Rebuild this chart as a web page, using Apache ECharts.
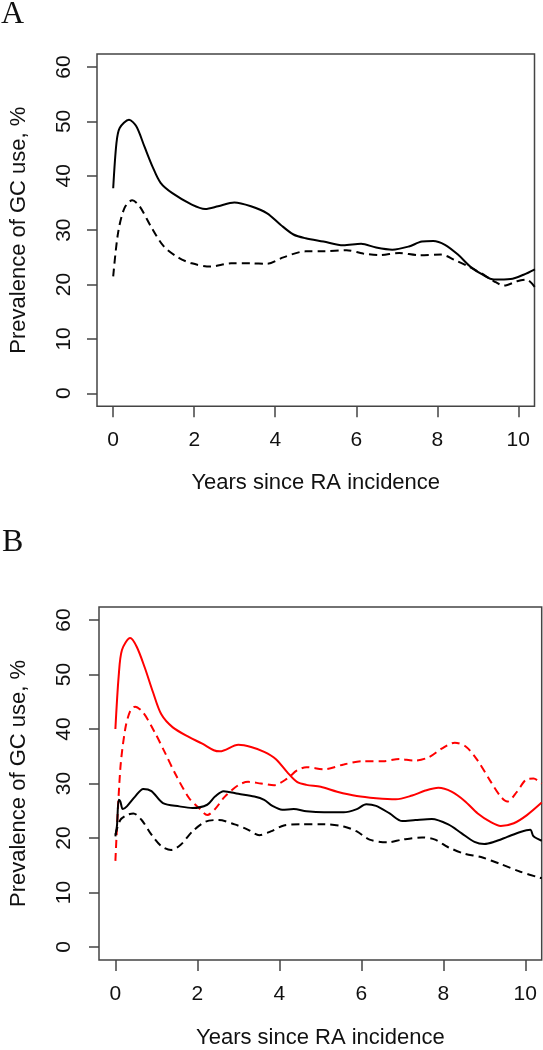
<!DOCTYPE html>
<html>
<head>
<meta charset="utf-8">
<script src="https://cdn.jsdelivr.net/npm/echarts@6/dist/echarts.min.js"></script>
<style>
html,body{margin:0;padding:0;background:#fff;}
#c{width:543px;height:1050px;}
</style>
</head>
<body>
<div id="c"></div>
<script>
// ---- tick labels ----
var yTicks = [0, 10, 20, 30, 40, 50, 60];
var xTicks = [0, 2, 4, 6, 8, 10];

// ---- Panel A ----
var aSolidX = [0, 0.08, 0.16, 0.39, 0.57, 0.77, 0.97, 1.17, 1.46, 1.94, 2.27, 2.59, 2.99, 3.40, 3.80, 4.13, 4.45, 4.75, 5.19, 5.68, 6.12, 6.49, 6.89, 7.30, 7.62, 7.90, 8.19, 8.51, 8.83, 9.12, 9.40, 9.81, 10.13, 10.41];
var aSolidY = [37.7, 46, 48.8, 50.3, 49.1, 45.4, 41.7, 38.7, 36.8, 34.7, 33.9, 34.4, 35.1, 34.4, 33.1, 31.0, 29.2, 28.5, 27.9, 27.2, 27.5, 26.8, 26.4, 27.0, 27.9, 28.0, 27.3, 25.5, 23.2, 21.8, 20.9, 21.0, 21.8, 22.8];
var aDashX = [0, 0.12, 0.28, 0.47, 0.65, 0.93, 1.25, 1.62, 1.94, 2.39, 2.91, 3.40, 3.80, 4.20, 4.75, 5.19, 5.76, 6.17, 6.57, 7.06, 7.54, 8.10, 8.43, 8.75, 9.08, 9.40, 9.65, 9.97, 10.21, 10.41];
var aDashY = [21.5, 29.5, 34.1, 35.5, 34.4, 30.7, 27.0, 24.9, 23.9, 23.3, 23.9, 23.9, 23.8, 25.0, 26.1, 26.1, 26.3, 25.7, 25.4, 25.8, 25.4, 25.5, 24.5, 23.4, 22.1, 20.6, 19.8, 20.6, 20.9, 19.5];

// ---- Panel B ----
var bRedSolidX = [0, 0.08, 0.16, 0.36, 0.52, 0.72, 0.92, 1.12, 1.40, 1.80, 2.12, 2.40, 2.55, 3.00, 3.31, 3.63, 3.91, 4.19, 4.43, 4.66, 5.01, 5.41, 5.89, 6.36, 6.84, 7.24, 7.56, 7.88, 8.20, 8.52, 8.84, 9.16, 9.40, 9.72, 10.04, 10.40];
var bRedSolidY = [40.0, 49.7, 54.5, 56.7, 55.1, 51.2, 46.7, 42.7, 40.3, 38.5, 37.3, 36.1, 35.9, 37.1, 36.7, 35.8, 34.5, 32.1, 30.3, 29.75, 29.4, 28.5, 27.7, 27.3, 27.1, 27.8, 28.7, 29.2, 28.5, 26.8, 24.5, 22.9, 22.2, 22.7, 24.2, 26.5];
var bRedDashX = [0, 0.12, 0.24, 0.36, 0.48, 0.68, 0.96, 1.20, 1.48, 1.80, 2.04, 2.24, 2.43, 2.67, 3.00, 3.24, 3.55, 3.87, 4.19, 4.43, 4.66, 5.09, 5.57, 6.05, 6.53, 6.93, 7.28, 7.64, 7.96, 8.28, 8.56, 8.84, 9.16, 9.40, 9.56, 9.80, 10.04, 10.20, 10.40];
var bRedDashY = [15.8, 32.7, 40.0, 43.3, 44.1, 43.0, 39.4, 35.8, 31.5, 27.3, 25.5, 24.2, 25.3, 27.6, 29.7, 30.3, 30.0, 29.7, 30.9, 32.4, 33.0, 32.6, 33.5, 34.1, 34.1, 34.5, 34.2, 34.8, 36.4, 37.5, 36.7, 34.2, 30.3, 27.6, 26.7, 28.5, 30.8, 30.9, 30.0];
var bBlackSolidX = [0, 0.04, 0.08, 0.12, 0.18, 0.28, 0.48, 0.68, 0.88, 1.16, 1.56, 1.88, 2.24, 2.43, 2.64, 3.00, 3.39, 3.63, 3.83, 4.07, 4.35, 4.66, 5.09, 5.57, 5.89, 6.12, 6.36, 6.69, 7.00, 7.32, 7.72, 8.12, 8.44, 8.76, 9.00, 9.24, 9.56, 9.88, 10.12, 10.20, 10.40];
var bBlackSolidY = [20.3, 22.4, 27.0, 26.7, 25.3, 25.8, 27.6, 29.0, 28.6, 26.4, 25.8, 25.5, 26.1, 27.6, 28.6, 28.1, 27.6, 27.0, 25.9, 25.2, 25.3, 24.9, 24.7, 24.7, 25.3, 26.2, 25.9, 24.5, 23.1, 23.3, 23.5, 22.5, 20.9, 19.3, 18.9, 19.3, 20.2, 21.1, 21.5, 20.3, 19.5];
var bBlackDashX = [0, 0.12, 0.28, 0.44, 0.64, 0.88, 1.12, 1.36, 1.60, 1.88, 2.20, 2.52, 2.91, 3.24, 3.51, 3.79, 4.11, 4.51, 5.09, 5.57, 5.89, 6.20, 6.64, 7.00, 7.48, 7.80, 8.12, 8.52, 8.92, 9.40, 9.88, 10.40];
var bBlackDashY = [20.6, 23.3, 24.2, 24.5, 23.3, 20.6, 18.5, 17.8, 18.8, 21.2, 23.0, 23.3, 22.5, 21.5, 20.5, 21.2, 22.3, 22.5, 22.5, 22.1, 21.2, 19.7, 19.2, 19.7, 20.1, 19.7, 18.3, 17.1, 16.5, 15.2, 13.8, 12.6];

function zip(xs, ys) { return xs.map(function (x, i) { return [x, ys[i]]; }); }

var FONT = '"Liberation Sans", Arial, sans-serif';
var AX = '#444';

function makeX(idx, labelMargin, nameGap) {
  return {
    type: 'value', gridIndex: idx, min: -0.4, max: 10.4,
    name: 'Years since RA incidence', nameLocation: 'middle', nameGap: nameGap,
    nameTextStyle: { fontFamily: FONT, fontSize: 22, color: '#111' },
    axisLine: { show: false, onZero: false },
    axisTick: { show: true, inside: false, length: 11, customValues: xTicks, lineStyle: { color: AX, width: 1.5 } },
    axisLabel: { show: true, customValues: xTicks, margin: labelMargin, fontFamily: FONT, fontSize: 21, color: '#111' },
    splitLine: { show: false }
  };
}
function makeY(idx, labelMargin, nameGap) {
  return {
    type: 'value', gridIndex: idx, min: -2.4, max: 62.4,
    name: 'Prevalence of GC use, %', nameLocation: 'middle', nameGap: nameGap,
    nameTextStyle: { fontFamily: FONT, fontSize: 22, color: '#111' },
    axisLine: { show: false, onZero: false },
    axisTick: { show: true, inside: false, length: 10, customValues: yTicks, lineStyle: { color: AX, width: 1.5 } },
    axisLabel: { show: true, customValues: yTicks, rotate: 90, margin: labelMargin, fontFamily: FONT, fontSize: 21, color: '#111' },
    splitLine: { show: false }
  };
}
function line(data, xi, color, dashed) {
  return {
    type: 'line', xAxisIndex: xi, yAxisIndex: xi, data: data,
    showSymbol: false, symbol: 'none', smooth: 0.3, clip: true,
    lineStyle: { color: color, width: 2, type: dashed ? [8, 5] : 'solid' },
    silent: true
  };
}

var chart = echarts.init(document.getElementById('c'), null, { renderer: 'canvas' });
chart.setOption({
  animation: false,
  backgroundColor: '#fff',
  grid: [
    { left: 89.5, top: 54, width: 445, height: 352.3, show: true, borderColor: AX, borderWidth: 1.5, containLabel: false },
    { left: 91, top: 607, width: 450.7, height: 356.3, show: true, borderColor: AX, borderWidth: 1.5, containLabel: false }
  ],
  xAxis: [makeX(0, 23, 66), makeX(1, 24, 67)],
  yAxis: [makeY(0, 22, 67), makeY(1, 24, 69)],
  graphic: [
    { type: 'text', left: 1, top: -1, style: { text: 'A', font: '32px "Liberation Serif", "Times New Roman", serif', fill: '#111' } },
    { type: 'text', left: 2, top: 527, style: { text: 'B', font: '32px "Liberation Serif", "Times New Roman", serif', fill: '#111' } }
  ],
  series: [
    line(zip(aSolidX, aSolidY), 0, '#000', false),
    line(zip(aDashX, aDashY), 0, '#000', true),
    line(zip(bRedSolidX, bRedSolidY), 1, '#ff0000', false),
    line(zip(bRedDashX, bRedDashY), 1, '#ff0000', true),
    line(zip(bBlackSolidX, bBlackSolidY), 1, '#000', false),
    line(zip(bBlackDashX, bBlackDashY), 1, '#000', true)
  ]
});
</script>
</body>
</html>
